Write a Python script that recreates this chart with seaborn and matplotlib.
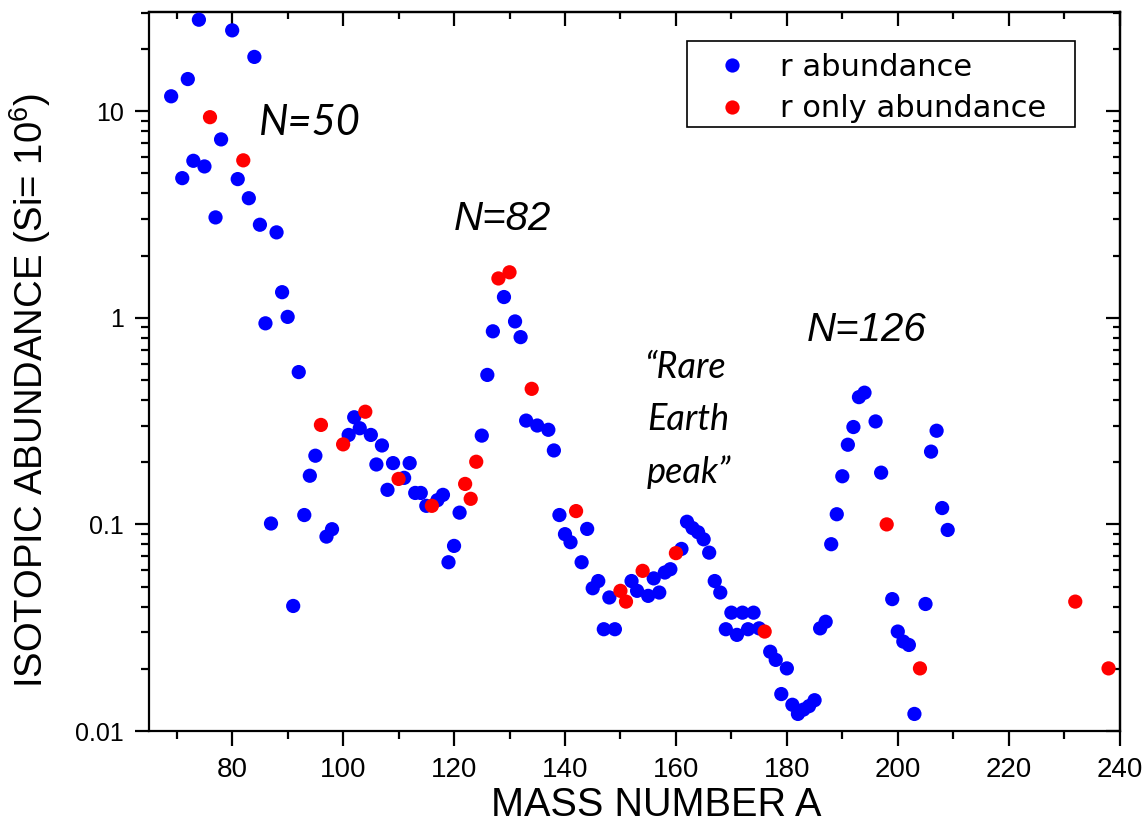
import numpy as np
import pandas as pd
import matplotlib
matplotlib.use("Agg")
import matplotlib.pyplot as plt
from matplotlib.patches import Rectangle
import seaborn as sns
from matplotlib.ticker import FixedLocator, FixedFormatter, LogLocator, NullFormatter, MultipleLocator

# ---------------- data ----------------
r_mass = [69, 71, 72, 73, 74, 75, 77, 78, 80, 81, 83, 84, 85, 86, 87, 88, 89, 90,
          91, 92, 93, 94, 95, 97, 98, 101, 102, 103, 105, 106, 107, 108, 109, 111,
          112, 113, 114, 115, 117, 118, 119, 120, 121, 125, 126, 127, 129, 131, 132,
          133, 135, 137, 138, 139, 140, 141, 143, 144, 145, 146, 147, 148, 149, 152,
          153, 155, 156, 157, 158, 159, 161, 162, 163, 164, 165, 166, 167, 168, 169,
          170, 171, 172, 173, 174, 175, 177, 178, 179, 180, 181, 182, 183, 184, 185,
          186, 187, 188, 189, 190, 191, 192, 193, 194, 196, 197, 199, 200, 201, 202,
          203, 205, 206, 207, 208, 209]
r_abund = [11.8, 4.74, 14.3, 5.75, 27.7, 5.4, 3.06, 7.3, 24.6, 4.69, 3.79, 18.3, 2.82,
           0.94, 0.101, 2.59, 1.33, 1.01, 0.0403, 0.546, 0.111, 0.172, 0.215, 0.0873,
           0.0948, 0.271, 0.330, 0.292, 0.271, 0.195, 0.241, 0.147, 0.198, 0.168,
           0.198, 0.142, 0.142, 0.123, 0.131, 0.139, 0.0656, 0.0787, 0.114, 0.269,
           0.529, 0.86, 1.26, 0.96, 0.806, 0.318, 0.301, 0.287, 0.228, 0.111, 0.0897,
           0.0820, 0.0656, 0.0951, 0.0491, 0.0532, 0.0311, 0.0443, 0.0311, 0.0532,
           0.0477, 0.0451, 0.0548, 0.0468, 0.0585, 0.0607, 0.0761, 0.103, 0.0960,
           0.0916, 0.0847, 0.0730, 0.0532, 0.0468, 0.0311, 0.0374, 0.0292, 0.0374,
           0.0311, 0.0374, 0.0314, 0.0242, 0.0221, 0.0151, 0.0201, 0.0134, 0.0121,
           0.0127, 0.0132, 0.0141, 0.0314, 0.0338, 0.0802, 0.112, 0.171, 0.243,
           0.296, 0.413, 0.434, 0.315, 0.178, 0.0435, 0.0303, 0.0271, 0.0261, 0.0121,
           0.0412, 0.225, 0.284, 0.120, 0.094]

ronly_mass = [76, 82, 96, 100, 104, 110, 116, 122, 123, 124, 128, 130, 134, 142, 150,
              151, 154, 160, 176, 198, 204, 232, 238]
ronly_abund = [9.35, 5.78, 0.303, 0.244, 0.351, 0.166, 0.123, 0.157, 0.133, 0.201,
               1.55, 1.66, 0.453, 0.116, 0.0477, 0.0423, 0.0596, 0.0726, 0.0303,
               0.100, 0.0201, 0.0423, 0.0201]

series_names = ["r abundance", "r only abundance"]
x_ticks = [80, 100, 120, 140, 160, 180, 200, 220, 240]
y_ticks = [0.01, 0.1, 1, 10]
y_tick_labels = ["0.01", "0.1", "1", "10"]

df = pd.DataFrame({
    "A": r_mass + ronly_mass,
    "abund": r_abund + ronly_abund,
    "series": [series_names[0]] * len(r_mass) + [series_names[1]] * len(ronly_mass),
})

# ---------------- figure ----------------
sns.set_style("white")
plt.rcParams["font.family"] = ["Liberation Sans", "DejaVu Sans"]
plt.rcParams["mathtext.default"] = "regular"
for k in ["text.color", "axes.labelcolor", "xtick.color", "ytick.color", "axes.edgecolor"]:
    plt.rcParams[k] = "black"

fig = plt.figure(figsize=(11.46, 8.33), dpi=100)
ax = fig.add_axes([0.130, 0.1224, 0.847, 0.8636])

sns.scatterplot(data=df, x="A", y="abund", hue="series",
                palette={series_names[0]: "#0000ff", series_names[1]: "#ff0000"},
                s=105, edgecolor="none", linewidth=0, ax=ax, zorder=3)

ax.set_yscale("log")
ax.set_xlim(65, 240)
ax.set_ylim(0.01, 30.3)

for sp in ax.spines.values():
    sp.set_linewidth(1.6)
    sp.set_color("black")

ax.xaxis.set_major_locator(FixedLocator(x_ticks))
ax.xaxis.set_minor_locator(MultipleLocator(10))
ax.yaxis.set_major_locator(FixedLocator(y_ticks))
ax.yaxis.set_major_formatter(FixedFormatter(y_tick_labels))
ax.yaxis.set_minor_locator(LogLocator(base=10, subs=np.arange(2, 10)))
ax.yaxis.set_minor_formatter(NullFormatter())

ax.tick_params(axis="x", which="major", direction="out", length=11, width=1.6,
               labelsize=20, pad=8, bottom=True, top=False, colors="black")
ax.tick_params(axis="x", which="minor", direction="out", length=6, width=1.6,
               bottom=True, top=False, colors="black")
ax.tick_params(axis="y", which="major", direction="out", length=10, width=1.6,
               labelsize=18, pad=8, left=True, right=False, colors="black")
ax.tick_params(axis="y", which="minor", direction="out", length=6, width=1.6,
               left=True, right=False, colors="black")

# top / right inward ticks
secx = ax.secondary_xaxis("top")
secx.xaxis.set_major_locator(FixedLocator(x_ticks))
secx.xaxis.set_minor_locator(MultipleLocator(10))
secx.tick_params(axis="x", which="major", direction="in", length=10, width=1.6, labeltop=False)
secx.tick_params(axis="x", which="minor", direction="in", length=5, width=1.6)
secx.spines["top"].set_linewidth(1.6)

secy = ax.secondary_yaxis("right")
secy.yaxis.set_major_locator(FixedLocator(y_ticks))
secy.yaxis.set_minor_locator(LogLocator(base=10, subs=np.arange(2, 10)))
secy.yaxis.set_minor_formatter(NullFormatter())
secy.tick_params(axis="y", which="major", direction="in", length=10, width=1.6, labelright=False)
secy.tick_params(axis="y", which="minor", direction="in", length=5, width=1.6)
secy.spines["right"].set_linewidth(1.6)

narrow = ["Liberation Sans Narrow", "Liberation Sans", "DejaVu Sans"]
ax.set_xlabel("MASS NUMBER A", fontsize=28.5, family=narrow, color="black")
ax.xaxis.set_label_coords(0.523, -0.103)
ax.xaxis.label.set_va("center")
ax.set_ylabel("ISOTOPIC ABUNDANCE (Si= 10$^{6}$)", fontsize=27.5, family=narrow,
              color="black")
ax.yaxis.set_label_coords(-0.099, 0.473)

# legend (frame drawn separately to match the reference padding)
leg = ax.legend(loc="upper left", bbox_to_anchor=(0.585, 0.9425), borderaxespad=0,
                frameon=False, prop={"family": ["DejaVu Sans"], "size": 22},
                handletextpad=1.06, borderpad=0.0, labelspacing=0.40,
                handlelength=1.0, markerscale=1.0)
for t in leg.get_texts():
    t.set_color("black")
ax.add_patch(Rectangle((0.554, 0.8397), 0.9537 - 0.554, 0.959 - 0.8397,
                       transform=ax.transAxes, fill=False, edgecolor="black",
                       linewidth=1.2, zorder=5))

# annotations
calibri_like = ["Lato", "Open Sans", "DejaVu Sans"]
ax.text(94.0, 8.8, "N=50", fontsize=30, style="italic", family=calibri_like,
        ha="center", va="center", color="black")
ax.text(128.8, 2.99, "N=82", fontsize=29, style="italic", family=["Liberation Sans"],
        ha="center", va="center", color="black")
ax.text(194.3, 0.875, "N=126", fontsize=29, style="italic", family=["Liberation Sans"],
        ha="center", va="center", color="black")
ax.text(154.5, 0.573, "\u201cRare", fontsize=26, style="italic", family=calibri_like,
        ha="left", va="center", color="black")
ax.text(154.8, 0.321, "Earth", fontsize=26, style="italic", family=calibri_like,
        ha="left", va="center", color="black")
ax.text(154.8, 0.1795, "peak\u201d", fontsize=26, style="italic", family=calibri_like,
        ha="left", va="center", color="black")

fig.savefig("out.png", dpi=100)
